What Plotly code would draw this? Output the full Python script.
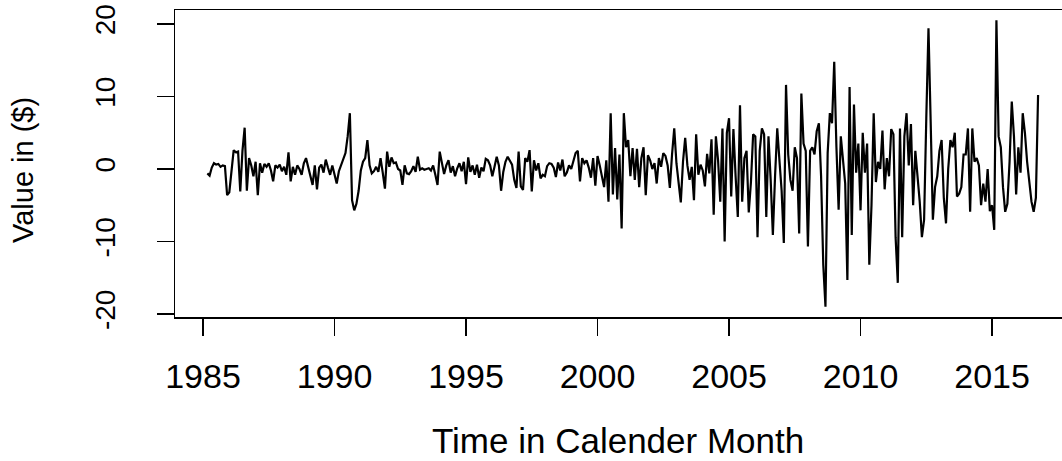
import plotly.graph_objects as go

# Monthly values, Mar 1985 .. Oct 2016
start_year = 1985
start_month = 3
y1985 = [-0.6, -0.9, 0.2, 0.8, 0.6, 0.7, 0.3, 0.5, 0.4, -3.6]
y1986 = [-3.2, 0.2, 2.6, 2.3, 2.4, -3.1, 2.5, 5.7, -3.0, 1.5, 0.5, -1.0]
y1987 = [1.0, -3.6, 0.8, -0.5, 0.7, 0.3, 0.8, -0.2, -1.7, 0.5, 0.2, 0.6]
y1988 = [-0.3, 0.3, -0.8, 2.3, -1.7, 0.3, -0.8, 0.5, 0.0, -0.8, 0.8, 1.5]
y1989 = [0.3, -1.0, -2.2, 0.5, -2.8, 0.2, 0.6, -0.5, 1.3, 0.2, -0.8, 0.5]
y1990 = [-0.6, -2.0, -0.3, 0.5, 1.5, 2.2, 4.5, 7.7, -4.3, -5.7, -4.8, -3.0]
y1991 = [-0.2, 1.0, 1.5, 4.0, 0.5, -0.6, -0.3, 0.3, -0.4, 1.5, -0.5, -2.7]
y1992 = [2.4, 0.3, 1.6, 0.8, 0.9, 0.0, -0.2, -2.2, 0.5, -0.6, -0.7, -0.3]
y1993 = [0.4, -0.4, 1.7, -0.1, 0.1, -0.1, 0.0, 0.1, -0.2, 0.5, -0.8, -2.2]
y1994 = [2.4, 1.0, -0.7, 0.5, 1.2, -0.5, 0.4, -1.0, 0.1, 0.8, -0.3, 1.0]
y1995 = [-2.1, 1.6, -0.4, 0.5, -0.8, 0.6, -1.2, 0.2, -0.3, 1.4, 1.2, 0.5]
y1996 = [-1.0, 0.3, 1.7, 0.5, -3.0, -0.4, 1.0, 1.7, 1.2, 0.6, -1.5, -2.6]
y1997 = [2.4, -2.4, -2.9, 1.5, 1.0, 2.6, -3.1, 1.2, -0.2, 0.8, -1.3, -0.8]
y1998 = [-1.0, 0.4, 0.8, 0.7, 0.2, -1.1, 0.9, -0.2, 1.3, -1.0, -0.5, 0.5]
y1999 = [0.0, 1.0, 2.2, 2.5, -1.7, 1.5, 0.8, 1.2, 0.2, -1.2, 1.5, -2.3]
y2000 = [1.8, 0.5, -0.8, -2.5, 1.2, -4.5, 7.7, -3.5, 2.9, -4.2, 2.0, -8.2]
y2001 = [7.7, 3.0, 4.0, -1.0, 2.9, -1.5, 2.8, -2.5, 1.5, 3.0, -3.6, 1.9]
y2002 = [1.2, 0.0, 0.8, -2.0, 1.5, 0.3, 2.2, 1.8, 0.5, -2.6, 2.0, 5.6]
y2003 = [0.8, -2.0, -4.6, 1.0, 4.3, 0.5, -1.5, 0.3, -4.3, 4.8, -0.8, 0.6]
y2004 = [-0.2, -2.4, 2.1, -0.6, 4.1, -6.3, 4.5, 1.2, -4.5, 5.6, -10.0, 5.0]
y2005 = [7.0, -3.8, 5.5, -1.0, -6.6, 8.8, -4.5, 1.5, 2.5, -6.0, -1.8, 4.8]
y2006 = [4.5, -9.4, 2.5, 5.6, 4.8, -6.6, 4.5, -1.5, -9.1, -1.0, 5.6, 1.2]
y2007 = [-3.0, -10.2, 11.6, 2.0, -1.5, -3.0, 3.0, 1.5, -8.9, 10.4, 3.5, 2.5]
y2008 = [-10.7, 2.5, 3.0, 2.0, 5.2, 6.3, -1.0, -13.2, -19.0, 2.2, 7.7, 6.3]
y2009 = [14.8, 3.0, -5.6, 4.5, 1.5, -2.0, -15.3, 11.3, -9.1, 8.9, -0.5, 3.5]
y2010 = [-5.7, 5.0, -0.5, 3.5, -13.2, -5.0, 7.7, -1.8, 1.0, 0.0, 5.3, -2.8]
y2011 = [1.5, -1.0, 5.5, 4.8, -9.4, -15.7, 5.6, -9.4, 4.5, 7.7, 0.5, 6.2]
y2012 = [-5.0, 2.5, -1.0, -4.5, -9.4, -7.0, 7.0, 19.4, 6.5, -7.0, -2.5, -1.0]
y2013 = [2.5, 4.0, -4.0, -7.5, 0.0, 4.0, 3.0, 5.0, -3.8, -3.4, -2.5, 2.0]
y2014 = [2.0, 5.6, -5.9, 5.6, 1.0, 1.5, 0.5, -5.0, -2.0, -4.5, 0.0, -5.8]
y2015 = [-5.0, -8.4, 20.5, 4.5, 3.0, -2.5, -5.9, -4.8, 1.0, 9.3, 4.5, -3.5]
y2016 = [3.0, -0.5, 7.7, 5.0, 1.0, -1.5, -4.5, -5.9, -4.0, 10.2]

values = (y1985 + y1986 + y1987 + y1988 + y1989 + y1990 + y1991 + y1992 +
          y1993 + y1994 + y1995 + y1996 + y1997 + y1998 + y1999 + y2000 +
          y2001 + y2002 + y2003 + y2004 + y2005 + y2006 + y2007 + y2008 +
          y2009 + y2010 + y2011 + y2012 + y2013 + y2014 + y2015 + y2016)
times = [start_year + (start_month - 1 + i) / 12 for i in range(len(values))]

x_ticks = [1985, 1990, 1995, 2000, 2005, 2010, 2015]
y_ticks = [-20, -10, 0, 10, 20]

W, H = 1062, 461
L, T, B = 175, 10, 144
PW, PH = W - L, H - T - B

FONT = "Liberation Sans, Arial, sans-serif"

fig = go.Figure()
fig.add_trace(go.Scatter(x=times, y=values, mode="lines",
                         line=dict(color="black", width=2.2),
                         showlegend=False, hoverinfo="skip"))

fig.update_layout(
    width=W, height=H,
    margin=dict(l=L, r=0, t=T, b=B, pad=0),
    paper_bgcolor="white", plot_bgcolor="white",
    font=dict(family=FONT, color="black"),
    xaxis=dict(range=[1983.935, 2017.66], tickvals=x_ticks,
               ticktext=[str(v) for v in x_ticks],
               showgrid=False, zeroline=False, showline=True,
               linecolor="black", linewidth=1.5, mirror=True,
               ticks="outside", ticklen=17, tickwidth=1.5, tickcolor="black",
               tickfont=dict(size=34, family=FONT, color="black"),
               ticklabelstandoff=12),
    yaxis=dict(range=[-20.41, 21.93], tickvals=y_ticks,
               ticktext=[str(v) for v in y_ticks],
               showgrid=False, zeroline=False, showline=True,
               linecolor="black", linewidth=1.5, mirror=False,
               ticks="outside", ticklen=17, tickwidth=1.5, tickcolor="black",
               tickangle=-90,
               tickfont=dict(size=28, family=FONT, color="black"),
               ticklabelstandoff=30),
    annotations=[
        dict(text="Time in Calender Month", xref="paper", yref="paper",
             x=(618 - L) / PW, y=(H - B - 440) / PH,
             xanchor="center", yanchor="middle", showarrow=False,
             font=dict(size=35, family=FONT, color="black")),
        dict(text="Value in ($)", xref="paper", yref="paper",
             x=(23 - L) / PW, y=(H - B - 170) / PH, textangle=-90,
             xanchor="center", yanchor="middle", showarrow=False,
             font=dict(size=29, family=FONT, color="black")),
    ],
)

fig.write_html("out.html",
               config={"displayModeBar": False, "staticPlot": True},
               post_script="document.body.style.margin='0';"
                           "document.body.style.overflow='hidden';")
